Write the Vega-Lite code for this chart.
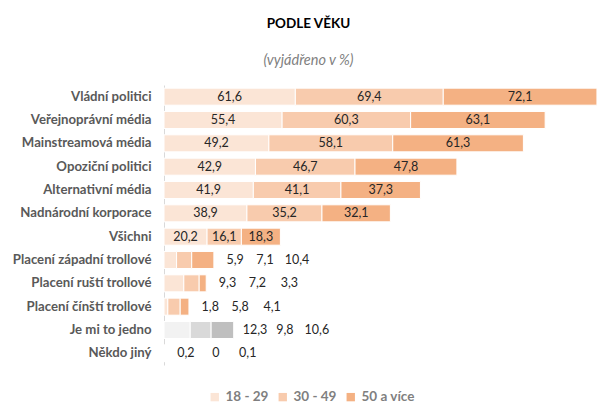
{
  "$schema": "https://vega.github.io/schema/vega-lite/v6.json",
  "width": 437,
  "height": 280,
  "autosize": {"type": "none"},
  "padding": {"left": 164, "top": 85, "right": 4, "bottom": 45},
  "background": "white",
  "title": {
    "text": "PODLE VĚKU",
    "subtitle": "(vyjádřeno v %)",
    "anchor": "middle",
    "dx": -74,
    "offset": 18,
    "font": "Lato",
    "fontSize": 13.5,
    "fontWeight": "bold",
    "color": "#000000",
    "subtitleFont": "Lato",
    "subtitleFontSize": 14.5,
    "subtitleFontStyle": "italic",
    "subtitleColor": "#7f7f7f",
    "subtitlePadding": 23
  },
  "data": {
    "values": [
      {"kat": "Vládní politici", "vek": "18 - 29", "value": 61.6},
      {"kat": "Vládní politici", "vek": "30 - 49", "value": 69.4},
      {"kat": "Vládní politici", "vek": "50 a více", "value": 72.1},
      {"kat": "Veřejnoprávní média", "vek": "18 - 29", "value": 55.4},
      {"kat": "Veřejnoprávní média", "vek": "30 - 49", "value": 60.3},
      {"kat": "Veřejnoprávní média", "vek": "50 a více", "value": 63.1},
      {"kat": "Mainstreamová média", "vek": "18 - 29", "value": 49.2},
      {"kat": "Mainstreamová média", "vek": "30 - 49", "value": 58.1},
      {"kat": "Mainstreamová média", "vek": "50 a více", "value": 61.3},
      {"kat": "Opoziční politici", "vek": "18 - 29", "value": 42.9},
      {"kat": "Opoziční politici", "vek": "30 - 49", "value": 46.7},
      {"kat": "Opoziční politici", "vek": "50 a více", "value": 47.8},
      {"kat": "Alternativní média", "vek": "18 - 29", "value": 41.9},
      {"kat": "Alternativní média", "vek": "30 - 49", "value": 41.1},
      {"kat": "Alternativní média", "vek": "50 a více", "value": 37.3},
      {"kat": "Nadnárodní korporace", "vek": "18 - 29", "value": 38.9},
      {"kat": "Nadnárodní korporace", "vek": "30 - 49", "value": 35.2},
      {"kat": "Nadnárodní korporace", "vek": "50 a více", "value": 32.1},
      {"kat": "Všichni", "vek": "18 - 29", "value": 20.2},
      {"kat": "Všichni", "vek": "30 - 49", "value": 16.1},
      {"kat": "Všichni", "vek": "50 a více", "value": 18.3},
      {"kat": "Placení západní trollové", "vek": "18 - 29", "value": 5.9},
      {"kat": "Placení západní trollové", "vek": "30 - 49", "value": 7.1},
      {"kat": "Placení západní trollové", "vek": "50 a více", "value": 10.4},
      {"kat": "Placení ruští trollové", "vek": "18 - 29", "value": 9.3},
      {"kat": "Placení ruští trollové", "vek": "30 - 49", "value": 7.2},
      {"kat": "Placení ruští trollové", "vek": "50 a více", "value": 3.3},
      {"kat": "Placení čínští trollové", "vek": "18 - 29", "value": 1.8},
      {"kat": "Placení čínští trollové", "vek": "30 - 49", "value": 5.8},
      {"kat": "Placení čínští trollové", "vek": "50 a více", "value": 4.1},
      {"kat": "Je mi to jedno", "vek": "18 - 29", "value": 12.3},
      {"kat": "Je mi to jedno", "vek": "30 - 49", "value": 9.8},
      {"kat": "Je mi to jedno", "vek": "50 a více", "value": 10.6},
      {"kat": "Někdo jiný", "vek": "18 - 29", "value": 0.2},
      {"kat": "Někdo jiný", "vek": "30 - 49", "value": 0},
      {"kat": "Někdo jiný", "vek": "50 a více", "value": 0.1}
    ]
  },
  "transform": [
    {"window": [{"op": "sum", "field": "value", "as": "cum"}], "groupby": ["kat"], "sort": [{"field": "vek", "order": "ascending"}], "frame": [null, 0]},
    {"joinaggregate": [{"op": "sum", "field": "value", "as": "total"}], "groupby": ["kat"]},
    {"calculate": "datum.cum - datum.value / 2", "as": "mid"},
    {"calculate": "datum.total + (datum.vek == '18 - 29' ? 10 : datum.vek == '30 - 49' ? 24 : 39)", "as": "lx"},
    {"calculate": "replace(datum.value + '', '.', ',')", "as": "lab"},
    {"calculate": "datum.kat == 'Je mi to jedno' ? 'g' + datum.vek : datum.vek", "as": "barva"},
    {"calculate": "indexof(['Vládní politici','Veřejnoprávní média','Mainstreamová média','Opoziční politici','Alternativní média','Nadnárodní korporace','Všichni'], datum.kat) >= 0", "as": "uvnitr"}
  ],
  "encoding": {
    "y": {
      "field": "kat",
      "type": "nominal",
      "sort": null,
      "scale": {"paddingInner": 0.27, "paddingOuter": 0.135},
      "axis": {
        "title": null,
        "ticks": false,
        "domainColor": "#d9d9d9",
        "labelPadding": 13,
        "labelFont": "Lato",
        "labelFontSize": 13.2,
        "labelFontWeight": "bold",
        "labelColor": "#595959"
      }
    }
  },
  "layer": [
    {
      "mark": {"type": "bar", "stroke": "white", "strokeWidth": 1},
      "encoding": {
        "x": {"field": "value", "type": "quantitative", "stack": "zero", "scale": {"domain": [0, 205], "nice": false}, "axis": null},
        "color": {
          "field": "barva",
          "type": "nominal",
          "scale": {
            "domain": ["18 - 29", "30 - 49", "50 a více", "g18 - 29", "g30 - 49", "g50 a více"],
            "range": ["#fbe5d6", "#f8cbad", "#f4b183", "#f2f2f2", "#d9d9d9", "#bfbfbf"]
          },
          "legend": {
            "values": ["18 - 29", "30 - 49", "50 a více"],
            "title": null,
            "orient": "none",
            "direction": "horizontal",
            "legendX": 44,
            "legendY": 305,
            "symbolType": "square",
            "symbolSize": 70,
            "symbolStrokeWidth": 0,
            "labelFont": "Lato",
            "labelFontSize": 13.5,
            "labelFontWeight": "bold",
            "labelColor": "#7f7f7f",
            "labelOffset": 4,
            "columnPadding": 7
          }
        },
        "order": {"field": "vek", "type": "nominal"}
      }
    },
    {
      "transform": [{"filter": "datum.uvnitr"}],
      "mark": {"type": "text", "font": "Lato", "fontSize": 12.5, "color": "#262626", "align": "center", "baseline": "middle"},
      "encoding": {
        "x": {"field": "mid", "type": "quantitative"},
        "text": {"field": "lab"}
      }
    },
    {
      "transform": [{"filter": "!datum.uvnitr"}],
      "mark": {"type": "text", "font": "Lato", "fontSize": 12.5, "color": "#262626", "align": "center", "baseline": "middle"},
      "encoding": {
        "x": {"field": "lx", "type": "quantitative"},
        "text": {"field": "lab"}
      }
    }
  ],
  "config": {"view": {"stroke": null}}
}
